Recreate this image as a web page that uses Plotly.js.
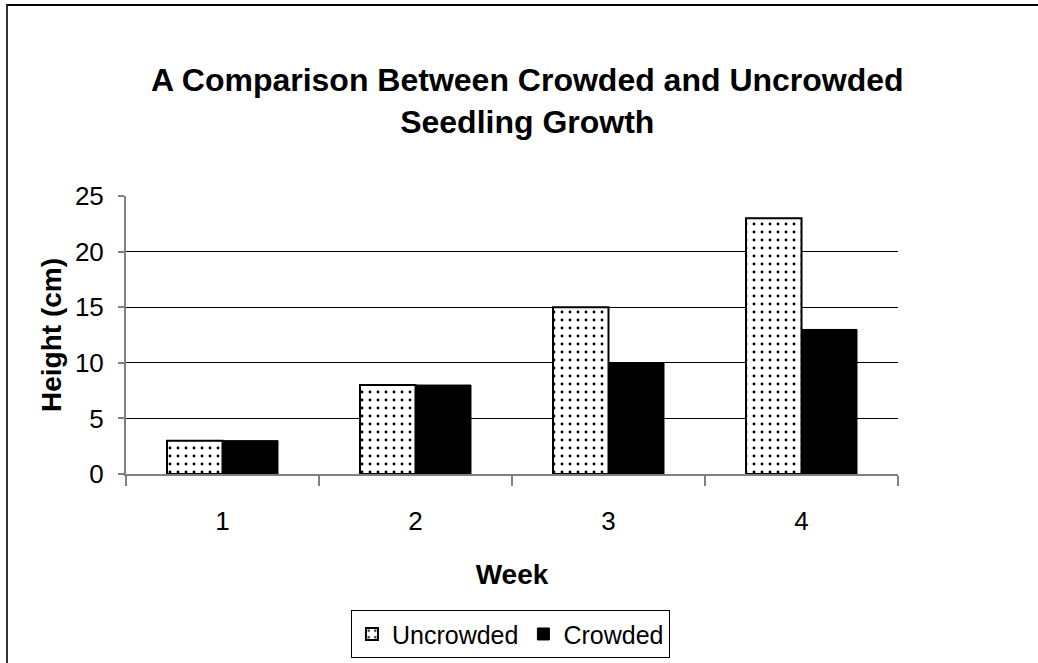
<!DOCTYPE html>
<html>
<head>
<meta charset="utf-8">
<script src="https://cdn.plot.ly/plotly-3.0.1.min.js"></script>
<style>
html,body{margin:0;padding:0;background:#fff;}
#wrap{position:absolute;left:0;top:0;width:1038px;height:663px;overflow:hidden;}
#frame{position:absolute;left:6px;top:4px;width:1100px;height:700px;border-left:2px solid #333;border-top:2px solid #000;pointer-events:none;}
#chart{position:absolute;left:0;top:0;width:1038px;height:663px;}
</style>
</head>
<body>
<div id="wrap">
<div id="chart"></div>
<div id="frame"></div>
</div>
<script>
var weeks = ['1', '2', '3', '4'];
var uncrowded = [3, 8, 15, 23];
var crowded = [3, 8, 10, 13];
var yTicks = [0, 5, 10, 15, 20, 25];

var font = 'Liberation Sans, Arial, sans-serif';

var traces = [
  {
    type: 'bar', name: 'Uncrowded', x: weeks, y: uncrowded,
    marker: {
      color: '#ffffff',
      line: {color: '#000', width: 2},
      pattern: {shape: '.', fgcolor: '#000', bgcolor: '#fff', size: 8, solidity: 0.1}
    }
  },
  {
    type: 'bar', name: 'Crowded', x: weeks, y: crowded,
    marker: {color: '#000', line: {color: '#000', width: 1}}
  }
];

var layout = {
  width: 1038, height: 663,
  margin: {l: 126, r: 140, t: 196, b: 189, autoexpand: false},
  paper_bgcolor: '#fff', plot_bgcolor: '#fff',
  font: {family: font, color: '#000', size: 26},
  title: {
    text: '<b>A Comparison Between Crowded and Uncrowded<br>Seedling Growth</b>',
    font: {family: font, size: 32, color: '#000'},
    x: 0.508, xanchor: 'center', y: 0.862, yanchor: 'middle'
  },
  barmode: 'group', bargap: 0.425, bargroupgap: 0,
  showlegend: true,
  legend: {
    orientation: 'h', x: 0.498, xanchor: 'center', y: -0.49, yanchor: 'top',
    bordercolor: '#000', borderwidth: 1, font: {size: 25, family: font},
    itemwidth: 30, traceorder: 'normal'
  },
  xaxis: {
    type: 'category', tickson: 'boundaries', ticks: 'outside', ticklen: 10,
    tickcolor: '#808080', tickwidth: 2,
    showline: true, linecolor: '#808080', linewidth: 2,
    showgrid: false, zeroline: false, automargin: false,
    tickfont: {size: 26, family: font},
    ticklabelstandoff: 23,
    title: {text: '<b>Week</b>', font: {size: 28, family: font}, standoff: 29}
  },
  yaxis: {
    range: [0, 25], tickvals: yTicks, ticktext: yTicks.map(String),
    ticks: 'outside', ticklen: 6, tickcolor: '#808080', tickwidth: 2,
    showline: true, linecolor: '#808080', linewidth: 2,
    showgrid: true, gridcolor: '#000', gridwidth: 1,
    zeroline: false, automargin: false,
    tickfont: {size: 26, family: font},
    ticklabelstandoff: 9,
    title: {text: '<b>Height (cm)</b>', font: {size: 28, family: font}, standoff: 5}
  }
};

Plotly.newPlot('chart', traces, layout, {displayModeBar: false, staticPlot: true});
</script>
</body>
</html>
